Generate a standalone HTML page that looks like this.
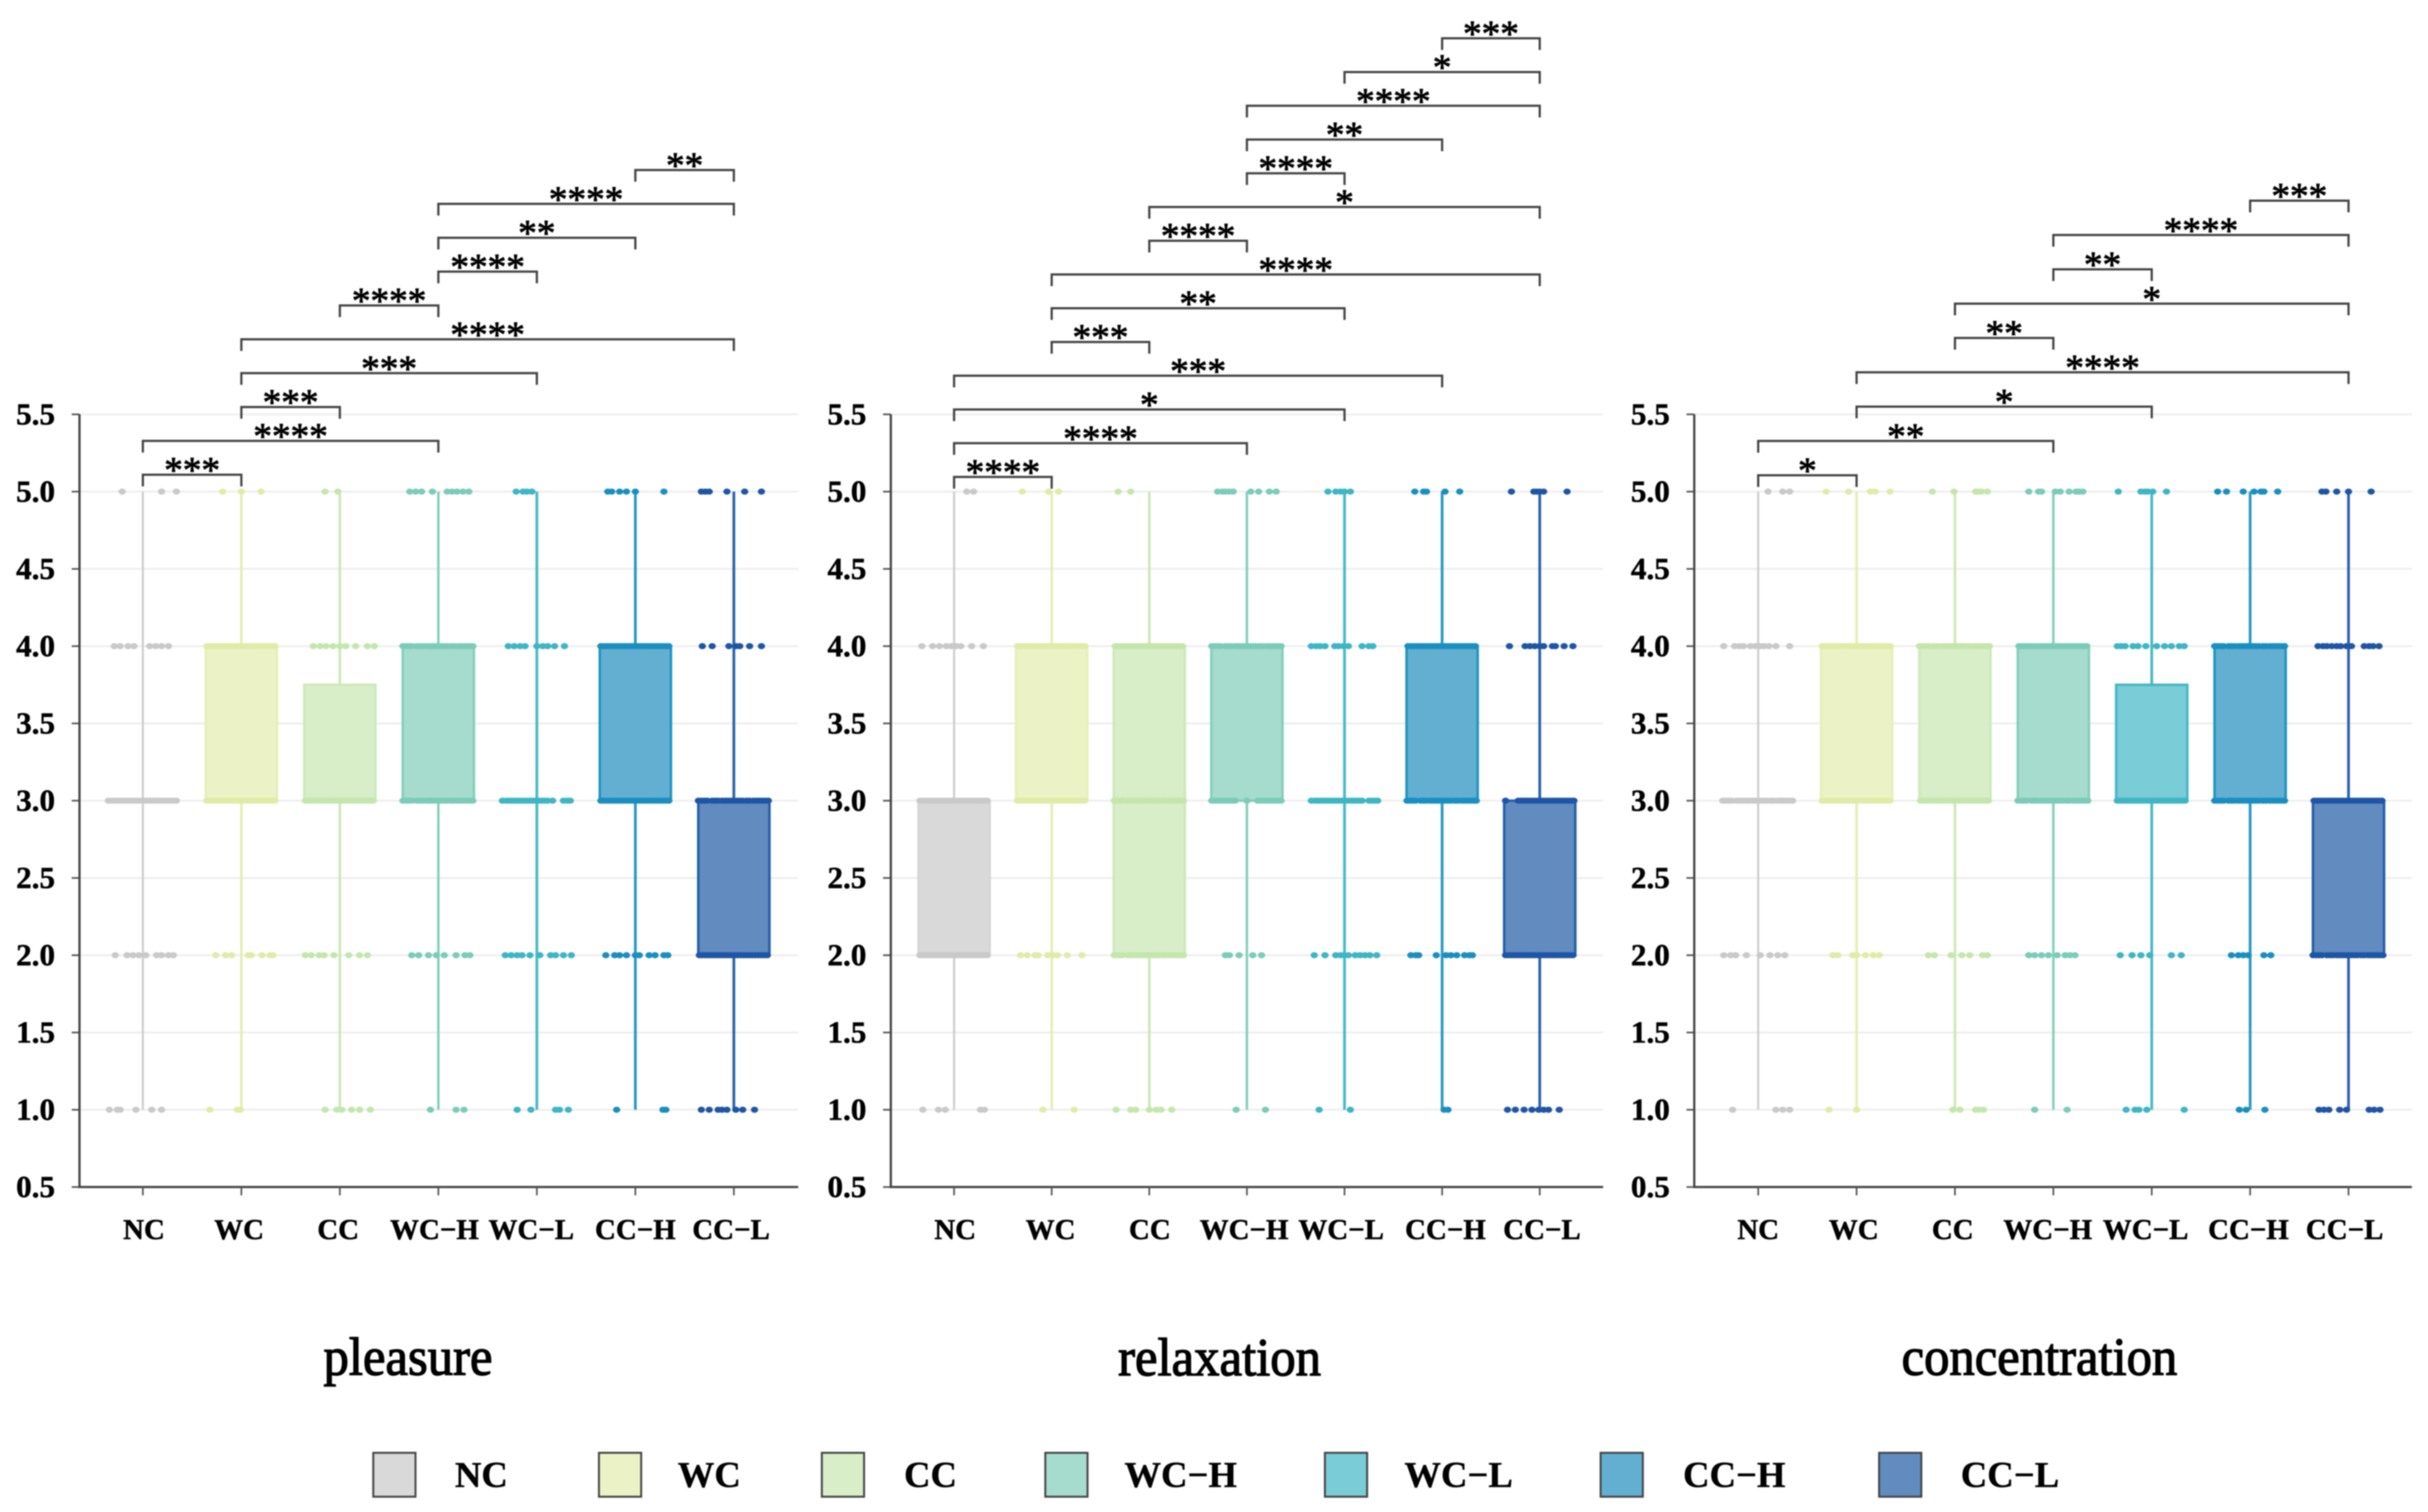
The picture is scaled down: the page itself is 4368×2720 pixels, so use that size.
<!DOCTYPE html>
<html lang="en">
<head>
<meta charset="utf-8">
<title>Pleasure, relaxation and concentration box plots</title>
<style>
html,body{margin:0;padding:0;background:#fff;}
svg{display:block;filter:blur(1.1px);}
text{font-family:"Liberation Serif","DejaVu Serif",serif;fill:#000;}
</style>
</head>
<body>
<svg id="chart" xmlns="http://www.w3.org/2000/svg" width="4368" height="2720" viewBox="0 0 4368 2720">
  <rect width="4368" height="2720" fill="#fff"/>
  <g id="panels"></g>
  <text x="734" y="2473" font-size="96" text-anchor="middle" textLength="304" lengthAdjust="spacingAndGlyphs" stroke="#000" stroke-width="2.2">pleasure</text>
  <text x="2194" y="2474" font-size="96" text-anchor="middle" textLength="365" lengthAdjust="spacingAndGlyphs" stroke="#000" stroke-width="2.2">relaxation</text>
  <text x="3669" y="2473" font-size="96" text-anchor="middle" textLength="496" lengthAdjust="spacingAndGlyphs" stroke="#000" stroke-width="2.2">concentration</text>
  <g id="legend"></g>
</svg>
<script>
const categories = ['NC','WC','CC','WC\u2212H','WC\u2212L','CC\u2212H','CC\u2212L'];
const yTicks = [0.5,1,1.5,2,2.5,3,3.5,4,4.5,5,5.5];
const yTickLabels = ['0.5','1.0','1.5','2.0','2.5','3.0','3.5','4.0','4.5','5.0','5.5'];
const likertLevels = [5,4,3,2,1];

const packedA = [-.35,-.32,-.29,-.26,-.23,-.2,-.17,-.14,-.11,-.08,-.05,-.02,.01,.04,.07,.1,.13,.16,.19,.22,.25,.28,.31,.34];
const packedB = [-.36,-.33,-.3,-.27,-.22,-.19,-.16,-.12,-.09,-.06,-.03,0,.03,.06,.09,.13,.16,.2,.23,.26,.29,.32,.35];

/* pleasure */
const pleasureQ1 = [3,3,3,3,3,3,2];
const pleasureQ3 = [3,4,3.75,4,3,4,3];
const pleasureLow = [1,1,1,1,1,1,1];
const pleasureHigh = [5,5,5,5,5,5,5];
const pleasureDots5 = [[-.21,.19,.34],[-.19,0,.2],[-.15,-.02],[-.29,-.23,-.17,-.06,.09,.14,.19,.25,.31],[-.21,-.14,-.1,-.05],[-.28,-.24,-.16,-.09,0,.29],[-.33,-.29,-.25,-.07,.11,.28]];
const pleasureDots4 = [[-.29,-.23,-.15,-.09,.07,.13,.19,.26],packedA,[-.27,-.2,-.14,-.07,0,.06,.16,.28,.35],packedB,[-.29,-.23,-.17,-.12,0,.06,.11,.18,.28],packedA,[-.32,-.22,-.05,.02,.06,.16,.28]];
const pleasureDots3 = [packedA,packedA,packedA,packedB,[-.35,-.31,-.28,-.25,-.22,-.19,-.16,-.13,-.1,-.07,-.04,-.01,.02,.05,.08,.11,.16,.27,.31,.34],packedA,packedB];
const pleasureDots2 = [[-.28,-.16,-.1,-.04,.03,.14,.19,.26,.31],[-.26,-.16,-.1,.07,.1,.21,.29,.32],[-.35,-.29,-.21,-.16,-.06,.09,.2,.28],[-.27,-.2,-.1,-.02,.06,.18,.27,.32],[-.32,-.26,-.2,-.15,-.07,.03,.14,.19,.27,.35],[-.3,-.21,-.16,-.09,0,.04,.14,.2,.29,.33],packedA];
const pleasureDots1 = [[-.34,-.26,-.23,-.07,.09,.19],[-.32,-.04,-.01],[-.15,-.03,.02,.12,.2,.31],[-.08,.18,.26],[-.2,-.06,.19,.23,.32],[-.19,.28,.31],[-.33,-.25,-.16,-.12,-.07,.02,.09,.21]];
const pleasureBrackets = [[0,1,'***'],[0,3,'****'],[1,2,'***'],[1,4,'***'],[1,6,'****'],[2,3,'****'],[3,4,'****'],[3,5,'**'],[3,6,'****'],[5,6,'**']];

/* relaxation */
const relaxationQ1 = [2,3,2,3,3,3,2];
const relaxationQ3 = [3,4,4,4,3,4,3];
const relaxationLow = [1,1,1,1,1,1,1];
const relaxationHigh = [5,5,5,5,5,5,5];
const relaxationDots5 = [[.13,.2],[-.3,-.03,.07],[-.32,-.19],[-.3,-.25,-.22,-.18,-.14,.04,.12,.23,.3],[-.17,-.09,-.04,0,.06],[-.28,-.19,-.16,.03,.18],[-.29,-.06,-.03,0,.04,.28]];
const relaxationDots4 = [[-.33,-.22,-.15,-.08,-.03,.02,.07,.18,.3],packedA,packedA,packedB,[-.34,-.29,-.25,-.2,-.1,-.06,-.01,.04,.18,.25,.29],packedA,[-.31,-.15,-.1,-.05,0,.04,.13,.16,.25,.34]];
const relaxationDots3 = [packedA,packedA,packedB,[-.36,-.33,-.3,-.27,-.24,-.21,-.18,-.15,-.12,0,.11,.14,.17,.2,.23,.26,.29,.32,.35],[-.34,-.3,-.27,-.24,-.21,-.18,-.15,-.12,-.09,-.06,-.03,0,.03,.06,.09,.12,.15,.18,.25,.28,.31,.34],packedB,[-.35,-.22,-.19,-.16,-.13,-.1,-.07,-.04,-.01,.02,.05,.08,.11,.14,.17,.2,.23,.26,.29,.32,.35]];
const relaxationDots2 = [packedA,[-.32,-.25,-.17,-.14,-.04,.01,.06,.16,.31],packedB,[-.22,-.18,-.08,.06,.15],[-.31,-.2,-.09,-.04,0,.04,.11,.16,.21,.26,.33],[-.32,-.27,-.24,-.06,.04,.09,.15,.23,.28,.31],packedA];
const relaxationDots1 = [[-.32,-.16,-.09,.27,.31],[-.09,.23],[-.34,-.19,-.14,0,.07,.12,.23],[-.11,.19],[-.26,.06],[.02,.06],[-.33,-.25,-.16,-.08,-.01,.04,.09,.2]];
const relaxationBrackets = [[0,1,'****'],[0,3,'****'],[0,4,'*'],[0,5,'***'],[1,2,'***'],[1,4,'**'],[1,6,'****'],[2,3,'****'],[2,6,'*'],[3,4,'****'],[3,5,'**'],[3,6,'****'],[4,6,'*'],[5,6,'***']];

/* concentration */
const concentrationQ1 = [3,3,3,3,3,3,2];
const concentrationQ3 = [3,4,4,4,3.75,4,3];
const concentrationLow = [1,1,1,1,1,1,1];
const concentrationHigh = [5,5,5,5,5,5,5];
const concentrationDots5 = [[.1,.25,.32],[-.31,-.08,.14,.19,.34],[-.23,-.01,.21,.24,.27,.33],[-.25,-.15,-.12,.02,.07,.16,.23,.26,.3],[-.34,-.11,-.07,-.04,.01,.15],[-.33,-.24,-.07,.04,.11,.14,.28],[-.27,-.23,-.12,0,.23]];
const concentrationDots4 = [[-.35,-.24,-.19,-.15,-.08,-.03,.02,.06,.11,.18,.32],packedA,packedB,packedA,[-.35,-.31,-.27,-.19,-.14,-.06,.05,.13,.2,.28,.33],packedB,[-.31,-.26,-.22,-.17,-.12,-.08,-.02,.03,.16,.21,.25,.31]];
const concentrationDots3 = [packedB,packedA,packedA,packedB,packedA,packedB,packedA];
const concentrationDots2 = [[-.35,-.28,-.23,-.12,.02,.12,.2,.27],[-.24,-.19,-.04,0,.09,.17,.23],[-.27,-.21,-.04,.07,.15,.28,.33],[-.25,-.19,-.12,-.05,.04,.12,.17,.22],[-.32,-.2,-.11,-.02,.2,.3],[-.19,-.12,-.07,-.02,.14,.21],packedB];
const concentrationDots1 = [[-.26,.18,.25,.32],[-.28,0],[-.02,.05,.21,.24,.29],[-.19,.14],[-.26,-.17,-.13,-.05,.33],[-.11,-.04,.15],[-.3,-.25,-.2,-.09,-.02,.21,.26,.32]];
const concentrationBrackets = [[0,1,'*'],[0,3,'**'],[1,4,'*'],[1,6,'****'],[2,3,'**'],[2,6,'*'],[3,4,'**'],[3,6,'****'],[5,6,'***']];

/* layout */
const groupStyles = [
  {fill:'#d9d9d9',box:'#d6d6d6',line:'#cacaca',dot:'#c9c9c9',lw:3.5},
  {fill:'#ebf2c6',box:'#e6efb8',line:'#e4eeb0',dot:'#e0eba8',lw:4.5},
  {fill:'#d7eec9',box:'#cdeaba',line:'#c9e8b2',dot:'#c4e6ac',lw:4.5},
  {fill:'#a6dccd',box:'#84cfbb',line:'#84cfbb',dot:'#7ccbb8',lw:4.5},
  {fill:'#7accd6',box:'#45b7c5',line:'#4ab9c6',dot:'#3fb5c4',lw:5},
  {fill:'#62afd2',box:'#2093c1',line:'#2b98c4',dot:'#1a8fbf',lw:5},
  {fill:'#628bbf',box:'#235fa9',line:'#2c63ab',dot:'#1f55a5',lw:5}
];
const panelDefs = [
  {id:'pleasure',x0:257,step:177.2,axisX:143,right:1436,base:854,gap:60.9,q1:pleasureQ1,q3:pleasureQ3,low:pleasureLow,high:pleasureHigh,rows:[pleasureDots5,pleasureDots4,pleasureDots3,pleasureDots2,pleasureDots1],brackets:pleasureBrackets,nudge:[2,-4,-3,-7,-10,0,-5]},
  {id:'relaxation',x0:1716.4,step:175.6,axisX:1602.6,right:2884,base:858,gap:60.7,q1:relaxationQ1,q3:relaxationQ3,low:relaxationLow,high:relaxationHigh,rows:[relaxationDots5,relaxationDots4,relaxationDots3,relaxationDots2,relaxationDots1],brackets:relaxationBrackets,nudge:[2,-2,1,-5,-6,6,4]},
  {id:'concentration',x0:3163,step:177,axisX:3048,right:4339,base:855,gap:61.75,q1:concentrationQ1,q3:concentrationQ3,low:concentrationLow,high:concentrationHigh,rows:[concentrationDots5,concentrationDots4,concentrationDots3,concentrationDots2,concentrationDots1],brackets:concentrationBrackets,nudge:[0,-5,-4,-10,-11,-3,-7]}
];
const legendLeft = [670,1076,1477,1879,2382,2878,3379];
const legendLabelCenter = [866,1276,1674,2124,2624,3120,3616];

const NS = 'http://www.w3.org/2000/svg';
const yBottom = 2135.4;
const yUnit = 278;
const boxWidth = 128;
function yScale(v){ return yBottom - (v - 0.5) * yUnit; }
function make(tag, attrs, parent, txt){
  const n = document.createElementNS(NS, tag);
  for (const k in attrs) n.setAttribute(k, attrs[k]);
  if (txt !== undefined) n.textContent = txt;
  parent.appendChild(n);
  return n;
}
const root = document.getElementById('panels');
panelDefs.forEach(function(p){
  const xScale = function(c){ return p.x0 + c * p.step; };
  const g = make('g', {}, root);
  
  

  yTicks.forEach(function(t, i){
    const grid = make('line', {x1:p.axisX, x2:p.right, y1:yScale(t), y2:yScale(t), stroke:'#eeeeee', 'stroke-width':3.5}, g);
    
    
    const tick = make('line', {x1:p.axisX-14, x2:p.axisX, y1:yScale(t), y2:yScale(t), stroke:'#555', 'stroke-width':3}, g);
    
    
    const lab = make('text', {x:p.axisX-44, y:yScale(t)+18, 'text-anchor':'end', 'font-size':55, 'font-weight':'bold', textLength:70, lengthAdjust:'spacingAndGlyphs', stroke:'#000', 'stroke-width':0.8}, g, yTickLabels[i]);
    
    
  });

  categories.forEach(function(cat, i){
    const st = groupStyles[i];
    const cx = xScale(i);
    const up = make('line', {x1:cx, x2:cx, y1:yScale(p.high[i]), y2:yScale(p.q3[i]), stroke:st.line, 'stroke-width':st.lw}, g);
    
    
    const dn = make('line', {x1:cx, x2:cx, y1:yScale(p.q1[i]), y2:yScale(p.low[i]), stroke:st.line, 'stroke-width':st.lw}, g);
    
    
    const box = make('rect', {x:cx-boxWidth/2, y:yScale(p.q3[i]), width:boxWidth, height:yScale(p.q1[i])-yScale(p.q3[i]), fill:st.fill, stroke:st.box, 'stroke-width':4.5}, g);
    
    
  });

  likertLevels.forEach(function(level, r){
    p.rows[r].forEach(function(offsets, i){
      offsets.forEach(function(o){
        const dot = make('ellipse', {cx:xScale(i + o), cy:yScale(level), rx:6.5, ry:5.5, fill:groupStyles[i].dot}, g);
        
        
      });
    });
  });

  const ax = make('path', {d:'M'+p.axisX+' '+yScale(5.5)+'V'+yScale(0.5)+'H'+p.right, fill:'none', stroke:'#444', 'stroke-width':4}, g);
  
  

  categories.forEach(function(cat, i){
    const cx = xScale(i);
    const t = make('line', {x1:cx, x2:cx, y1:yBottom, y2:yBottom+15, stroke:'#555', 'stroke-width':3}, g);
    
    
    const lab = make('text', {x:cx+p.nudge[i], y:2229, 'text-anchor':'middle', 'font-size':52, 'font-weight':'bold', stroke:'#000', 'stroke-width':0.8}, g, cat);
    
    
  });

  p.brackets.forEach(function(b, k){
    const y = p.base - k * p.gap;
    const x1 = xScale(b[0]);
    const x2 = xScale(b[1]);
    const br = make('path', {d:'M'+x1+' '+(y+21)+'V'+y+'H'+x2+'V'+(y+21), fill:'none', stroke:'#444', 'stroke-width':4}, g);
    
    
    const star = make('text', {x:(x1+x2)/2, y:y+14, 'text-anchor':'middle', 'font-size':67, stroke:'#000', 'stroke-width':1.4}, g, b[2]);
    
    
  });
});

const legend = document.getElementById('legend');
categories.forEach(function(cat, i){
  const sw = make('rect', {x:legendLeft[i]+1.5, y:2613.5, width:76, height:79, fill:groupStyles[i].fill, stroke:'#444', 'stroke-width':3.5}, legend);
  
  
  const lb = make('text', {x:legendLabelCenter[i], y:2675, 'text-anchor':'middle', 'font-size':66, 'font-weight':'bold', stroke:'#000', 'stroke-width':0.6}, legend, cat);
  
  
});
</script>
</body>
</html>
